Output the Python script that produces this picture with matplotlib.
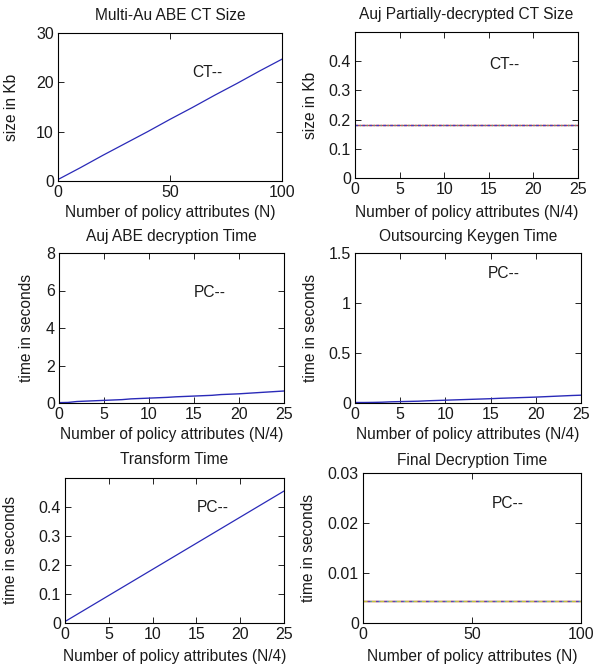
import matplotlib
matplotlib.use("Agg")
import matplotlib.pyplot as plt

plt.rcParams['font.family'] = ['Liberation Sans', 'DejaVu Sans']

# ---------------- data ----------------
N_full = [0, 10, 20, 30, 40, 50, 60, 70, 80, 90, 100]
ct_size = [0.3, 2.7, 5.2, 7.6, 10.0, 12.5, 14.9, 17.4, 19.8, 22.3, 24.7]

N_quarter = list(range(0, 26))
partial_ct_size = [0.18] * 26

abe_dec_time = [0.02, 0.03, 0.08, 0.10, 0.12, 0.14, 0.16, 0.18, 0.22, 0.24, 0.26, 0.28,
                0.30, 0.33, 0.35, 0.37, 0.39, 0.41, 0.45, 0.47, 0.49, 0.52, 0.55, 0.58,
                0.61, 0.64]

keygen_time = [0.005, 0.005, 0.006, 0.008, 0.012, 0.014, 0.016, 0.018, 0.022, 0.025,
               0.028, 0.031, 0.034, 0.037, 0.040, 0.043, 0.047, 0.050, 0.053, 0.056,
               0.059, 0.063, 0.067, 0.071, 0.075, 0.078]

transform_time = [0.005, 0.023, 0.041, 0.059, 0.077, 0.095, 0.113, 0.131, 0.149, 0.167,
                  0.185, 0.203, 0.221, 0.239, 0.257, 0.275, 0.293, 0.311, 0.329, 0.347,
                  0.365, 0.383, 0.401, 0.419, 0.437, 0.455]

final_dec_time = [0.0045] * 11

titles = ["Multi-Au ABE CT Size", "Auj Partially-decrypted CT Size",
          "Auj ABE decryption Time", "Outsourcing Keygen Time",
          "Transform Time", "Final Decryption Time"]
xlabels = ["Number of policy attributes (N)", "Number of policy attributes (N/4)",
           "Number of policy attributes (N/4)", "Number of policy attributes (N/4)",
           "Number of policy attributes (N/4)", "Number of policy attributes (N)"]
ylabels = ["size in Kb", "size in Kb", "time in seconds", "time in seconds",
           "time in seconds", "time in seconds"]
annot = ["CT--", "CT--", "PC--", "PC--", "PC--", "PC--"]

W, H = 599, 671
fig = plt.figure(figsize=(W / 100, H / 100), dpi=100)
fig.patch.set_facecolor('white')

# pixel rectangles (left, right, top, bottom)
rects = [(58, 282, 33, 181), (355, 578, 32, 178),
         (59, 284, 253, 403), (355, 581, 253, 403),
         (65, 284, 478, 623), (363, 581, 473, 623)]
# pixel positions of title centre (y), ylabel right edge (x), xlabel centre (y)
title_y = [15, 15, 237, 237, 460, 460]
ylab_x = [19, 318, 34, 318, 18, 316]
xlab_y = [212, 213, 435, 435, 657, 657]

axes = []
for (l, r, t, b) in rects:
    ax = fig.add_axes([l / W, (H - b) / H, (r - l) / W, (b - t) / H])
    axes.append(ax)

blue = '#2a2ab8'
TICK_FS = 11.5
LAB_FS = 11.2
TXT = '#1a1a1a'

def style(ax, i):
    l, r, t, b = rects[i]
    ax.set_title(titles[i], fontsize=LAB_FS, pad=0, color=TXT,
                 y=(b - title_y[i]) / (b - t), va='center')
    ax.set_xlabel(xlabels[i], fontsize=LAB_FS, color=TXT, va='center')
    ax.xaxis.set_label_coords(0.5, (b - xlab_y[i]) / (b - t))
    ax.set_ylabel(ylabels[i], fontsize=LAB_FS, color=TXT)
    ax.yaxis.set_label_coords((ylab_x[i] - l) / (r - l), 0.5)
    ax.tick_params(direction='in', top=True, right=True, labelsize=TICK_FS,
                   length=4, width=0.6, pad=3, labelcolor=TXT)
    for s in ax.spines.values():
        s.set_linewidth(0.8)

# 1
ax = axes[0]
ax.plot(N_full, ct_size, color=blue, lw=0.9)
ax.set_xlim(0, 100); ax.set_ylim(0, 30)
ax.set_xticks([0, 50, 100]); ax.set_yticks([0, 10, 20, 30])
ax.text(60, 22, annot[0], fontsize=LAB_FS, va='center', color=TXT)
style(ax, 0)

# 2
ax = axes[1]
ax.plot(N_quarter, partial_ct_size, color='#d04040', lw=1.0)
ax.plot(N_quarter, partial_ct_size, color='#4040c0', lw=1.0, ls=(0, (2, 3)))
ax.plot(N_quarter, partial_ct_size, color='#40a0a0', lw=1.0, ls=(2, (1, 4)))
ax.set_xlim(0, 25); ax.set_ylim(0, 0.5)
ax.set_xticks([0, 5, 10, 15, 20, 25]); ax.set_yticks([0, 0.1, 0.2, 0.3, 0.4])
ax.set_yticklabels(['0', '0.1', '0.2', '0.3', '0.4'])
ax.text(15, 0.39, annot[1], fontsize=LAB_FS, va='center', color=TXT)
style(ax, 1)

# 3
ax = axes[2]
ax.plot(N_quarter, abe_dec_time, color=blue, lw=1.0)
ax.set_xlim(0, 25); ax.set_ylim(0, 8)
ax.set_xticks([0, 5, 10, 15, 20, 25]); ax.set_yticks([0, 2, 4, 6, 8])
ax.text(15, 5.9, annot[2], fontsize=LAB_FS, va='center', color=TXT)
style(ax, 2)

# 4
ax = axes[3]
ax.plot(N_quarter, keygen_time, color=blue, lw=1.0)
ax.set_xlim(0, 25); ax.set_ylim(0, 1.5)
ax.set_xticks([0, 5, 10, 15, 20, 25]); ax.set_yticks([0, 0.5, 1, 1.5])
ax.set_yticklabels(['0', '0.5', '1', '1.5'])
ax.text(14.7, 1.3, annot[3], fontsize=LAB_FS, va='center', color=TXT)
style(ax, 3)

# 5
ax = axes[4]
ax.plot(N_quarter, transform_time, color=blue, lw=0.9)
ax.set_xlim(0, 25); ax.set_ylim(0, 0.5)
ax.set_xticks([0, 5, 10, 15, 20, 25]); ax.set_yticks([0, 0.1, 0.2, 0.3, 0.4])
ax.set_yticklabels(['0', '0.1', '0.2', '0.3', '0.4'])
ax.text(15, 0.397, annot[4], fontsize=LAB_FS, va='center', color=TXT)
style(ax, 4)

# 6
ax = axes[5]
ax.plot(N_full, final_dec_time, color='#d04040', lw=1.0)
ax.plot(N_full, final_dec_time, color='#c0c040', lw=1.0, ls=(0, (3, 3)))
ax.plot(N_full, final_dec_time, color='#6040b0', lw=1.0, ls=(3, (2, 4)))
ax.plot(N_full, final_dec_time, color='#40b0c0', lw=1.0, ls=(1, (1, 5)))
ax.set_xlim(0, 100); ax.set_ylim(0, 0.03)
ax.set_xticks([0, 50, 100]); ax.set_yticks([0, 0.01, 0.02, 0.03])
ax.set_yticklabels(['0', '0.01', '0.02', '0.03'])
ax.text(59, 0.024, annot[5], fontsize=LAB_FS, va='center', color=TXT)
style(ax, 5)

fig.savefig('out.png', dpi=100, facecolor='white')
